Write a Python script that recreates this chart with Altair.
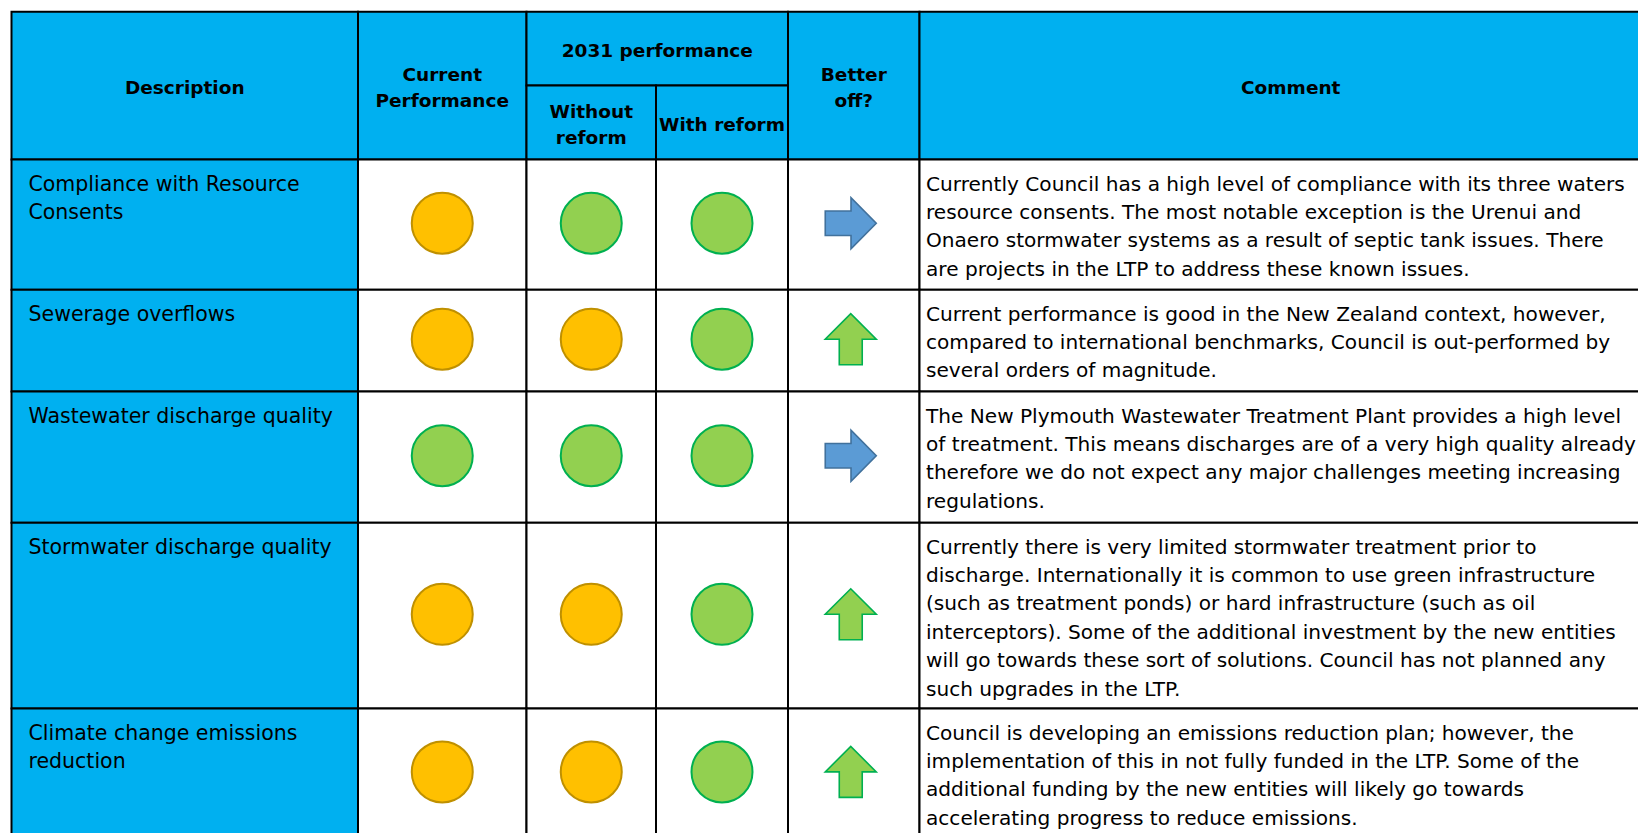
import altair as alt
import pandas as pd

# ---------------- data ----------------
headers_top = ["Description", "Current\nPerformance", "2031 performance", "Better\noff?", "Comment"]
headers_sub = ["Without\nreform", "With reform"]

descriptions = [
    "Compliance with Resource\nConsents",
    "Sewerage overflows",
    "Wastewater discharge quality",
    "Stormwater discharge quality",
    "Climate change emissions\nreduction",
]
current_perf = ["amber", "amber", "green", "amber", "amber"]
without_reform = ["green", "amber", "green", "amber", "amber"]
with_reform = ["green", "green", "green", "green", "green"]
better_off = ["right", "up", "right", "up", "up"]

comments = [
    "Currently Council has a high level of compliance with its three waters\n"
    "resource consents. The most notable exception is the Urenui and\n"
    "Onaero stormwater systems as a result of septic tank issues. There\n"
    "are projects in the LTP to address these known issues.",
    "Current performance is good in the New Zealand context, however,\n"
    "compared to international benchmarks, Council is out-performed by\n"
    "several orders of magnitude.",
    "The New Plymouth Wastewater Treatment Plant provides a high level\n"
    "of treatment. This means discharges are of a very high quality already\n"
    "therefore we do not expect any major challenges meeting increasing\n"
    "regulations.",
    "Currently there is very limited stormwater treatment prior to\n"
    "discharge. Internationally it is common to use green infrastructure\n"
    "(such as treatment ponds) or hard infrastructure (such as oil\n"
    "interceptors). Some of the additional investment by the new entities\n"
    "will go towards these sort of solutions. Council has not planned any\n"
    "such upgrades in the LTP.",
    "Council is developing an emissions reduction plan; however, the\n"
    "implementation of this in not fully funded in the LTP. Some of the\n"
    "additional funding by the new entities will likely go towards\n"
    "accelerating progress to reduce emissions.",
]

# ---------------- layout / style ----------------
COL = [11.5, 358, 526.5, 656, 788, 919.5, 1662]
ROW = [11.7, 159.6, 289.7, 391.5, 522.8, 708.6, 838]
HDR_MID = 85.5
BLUE = "#00B0F0"
FONT = "DejaVu Sans"
W, H = 1630, 825
X0, Y0 = 8, 8

DOT_FILL = {"amber": "#FFC000", "green": "#92D050"}
DOT_STROKE = {"amber": "#BF9000", "green": "#00B050"}
ARROW_FILL = {"right": "#5B9BD5", "up": "#92D050"}
ARROW_STROKE = {"right": "#41719C", "up": "#00B050"}
ARROW_PATH = {
    "right": "M -1 -0.48 L 0.01 -0.48 L 0.01 -1 L 1 0 L 0.01 1 L 0.01 0.48 L -1 0.48 Z",
    "up": "M -0.45 1 L -0.45 0 L -1 0 L 0 -1 L 1 0 L 0.45 0 L 0.45 1 Z",
}

# ---------------- tables ----------------
cells = []
cells.append((COL[0], COL[1], ROW[0], ROW[1], BLUE))
cells.append((COL[1], COL[2], ROW[0], ROW[1], BLUE))
cells.append((COL[2], COL[4], ROW[0], HDR_MID, BLUE))
cells.append((COL[2], COL[3], HDR_MID, ROW[1], BLUE))
cells.append((COL[3], COL[4], HDR_MID, ROW[1], BLUE))
cells.append((COL[4], COL[5], ROW[0], ROW[1], BLUE))
cells.append((COL[5], COL[6], ROW[0], ROW[1], BLUE))
for r in range(len(descriptions)):
    for c in range(6):
        cells.append((COL[c], COL[c + 1], ROW[r + 1], ROW[r + 2], BLUE if c == 0 else "white"))
cells_df = pd.DataFrame(cells, columns=["x", "x2", "y", "y2", "fill"])

def hdr(text, xa, xb, ya, yb):
    n = text.count("\n") + 1
    return dict(text=text, x=(xa + xb) / 2, y=(ya + yb) / 2 + 8.65 - (n - 1) * 13)

hdr_df = pd.DataFrame([
    hdr(headers_top[0], COL[0], COL[1], ROW[0], ROW[1]),
    hdr(headers_top[1], COL[1], COL[2], ROW[0], ROW[1]),
    hdr(headers_top[2], COL[2], COL[4], ROW[0], HDR_MID),
    hdr(headers_sub[0], COL[2], COL[3], HDR_MID, ROW[1]),
    hdr(headers_sub[1], COL[3], COL[4], HDR_MID, ROW[1]),
    hdr(headers_top[3], COL[4], COL[5], ROW[0], ROW[1]),
    hdr(headers_top[4], COL[5], COL[6], ROW[0], ROW[1]),
])

desc_df = pd.DataFrame([dict(text=descriptions[r], x=28.5, y=ROW[r + 1] + 31) for r in range(len(descriptions))])
comm_df = pd.DataFrame([dict(text=comments[r], x=926, y=ROW[r + 1] + 31) for r in range(len(comments))])

dots = []
for r in range(len(descriptions)):
    yc = (ROW[r + 1] + ROW[r + 2]) / 2 - 1.4
    for c, series in zip((1, 2, 3), (current_perf, without_reform, with_reform)):
        s = series[r]
        dots.append(dict(x=(COL[c] + COL[c + 1]) / 2, y=yc, fill=DOT_FILL[s], stroke=DOT_STROKE[s]))
dots_df = pd.DataFrame(dots)

arrows = []
for r in range(len(descriptions)):
    yc = (ROW[r + 1] + ROW[r + 2]) / 2 - 1.4
    d = better_off[r]
    arrows.append(dict(x=(COL[4] + COL[5]) / 2 - 3, y=yc, shape=ARROW_PATH[d],
                       fill=ARROW_FILL[d], stroke=ARROW_STROKE[d]))
arrows_df = pd.DataFrame(arrows)

# ---------------- chart ----------------
xs = alt.Scale(domain=[X0, X0 + W])
ys = alt.Scale(domain=[Y0, Y0 + H], reverse=True)

def X(f="x"):
    return alt.X(f"{f}:Q", scale=xs, axis=None)

def Y(f="y"):
    return alt.Y(f"{f}:Q", scale=ys, axis=None)

rects = alt.Chart(cells_df).mark_rect(stroke="black", strokeWidth=2).encode(
    x=X(), x2="x2:Q", y=Y(), y2="y2:Q", fill=alt.Fill("fill:N", scale=None)
)

hdr_text = alt.Chart(hdr_df).mark_text(
    font=FONT, fontSize=18.5, fontWeight="bold", align="center",
    baseline="alphabetic", lineBreak="\n", lineHeight=26, color="black"
).encode(x=X(), y=Y(), text="text:N")

desc_text = alt.Chart(desc_df).mark_text(
    font=FONT, fontSize=20.5, align="left",
    baseline="alphabetic", lineBreak="\n", lineHeight=28.35, color="black"
).encode(x=X(), y=Y(), text="text:N")

comm_text = alt.Chart(comm_df).mark_text(
    font=FONT, fontSize=20.1, align="left",
    baseline="alphabetic", lineBreak="\n", lineHeight=28.35, color="black"
).encode(x=X(), y=Y(), text="text:N")

dot_layer = alt.Chart(dots_df).mark_point(
    shape="circle", filled=True, size=3721, strokeWidth=2, opacity=1
).encode(
    x=X(), y=Y(),
    fill=alt.Fill("fill:N", scale=None),
    stroke=alt.Stroke("stroke:N", scale=None),
)

arrow_layer = alt.Chart(arrows_df).mark_point(
    filled=True, size=2601, strokeWidth=1.6, opacity=1
).encode(
    x=X(), y=Y(),
    shape=alt.Shape("shape:N", scale=None),
    fill=alt.Fill("fill:N", scale=None),
    stroke=alt.Stroke("stroke:N", scale=None),
)

chart = alt.layer(rects, dot_layer, arrow_layer, hdr_text, desc_text, comm_text).resolve_scale(
    fill="independent", stroke="independent"
).properties(
    width=W, height=H, padding=0, autosize=alt.AutoSizeParams(type="none"), background="white"
).configure_view(stroke=None)

chart.save("out.html", embed_options={"renderer": "svg", "actions": False})
